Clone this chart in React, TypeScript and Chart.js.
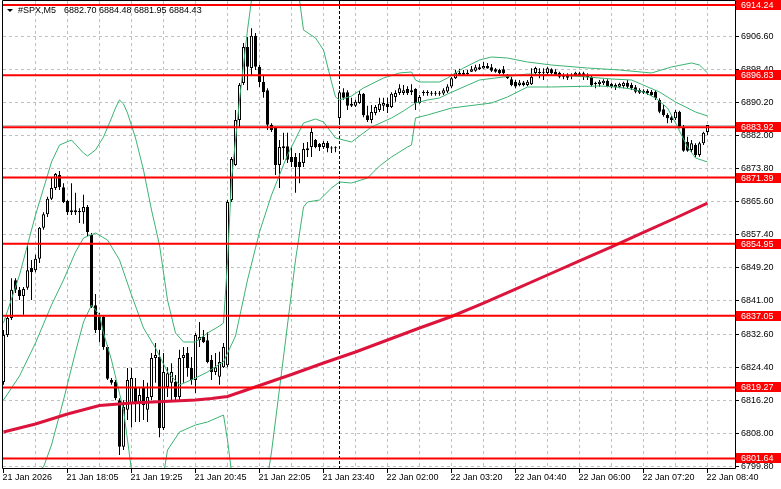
import React, { useEffect, useRef } from "react";
import { Chart, registerables } from "chart.js";

Chart.register(...registerables);

// ---------- data ----------
const symbolTitle = "#SPX,M5";
const lastOHLC = ["6882.70", "6884.48", "6881.95", "6884.43"];

const opens = [
  6820.6, 6832.3, 6836.5, 6845.9, 6843.5, 6842.0, 6844.0, 6848.9, 6848.4, 6851.2,
  6858.9, 6862.3, 6866.1, 6868.8, 6872.0, 6869.0, 6865.6, 6862.8, 6863.3, 6862.8,
  6862.8, 6864.1, 6857.1, 6839.7, 6836.8, 6836.8, 6829.3, 6821.1, 6820.6, 6816.1,
  6804.5, 6813.7, 6815.4, 6819.1, 6815.6, 6819.1, 6813.7, 6816.9, 6826.6, 6826.8,
  6809.2, 6819.4, 6820.4, 6820.6, 6816.9, 6826.6, 6827.8, 6824.1, 6821.1, 6831.0,
  6831.8, 6831.0, 6826.1, 6823.1, 6821.9, 6824.3, 6824.8, 6865.8, 6874.5, 6885.7,
  6894.9, 6903.8, 6898.6, 6906.6, 6898.9, 6895.1, 6893.1, 6884.5, 6883.7, 6874.5,
  6878.7, 6879.2, 6876.5, 6876.5, 6875.3, 6875.0, 6878.2, 6879.0, 6880.7, 6879.7,
  6879.0, 6880.0, 6878.7, 6878.7, 6886.2, 6892.6, 6892.6, 6889.7, 6889.2, 6889.9,
  6892.2, 6886.9, 6885.7, 6887.4, 6888.2, 6889.2, 6889.7, 6888.9, 6891.4, 6892.4,
  6892.4, 6893.4, 6892.6, 6893.4, 6889.9, 6892.4, 6892.6, 6892.4, 6892.4, 6892.2,
  6892.3, 6892.8, 6894.0, 6896.05, 6896.9, 6897.4, 6897.1, 6897.7, 6897.9, 6898.8,
  6898.5, 6899.1, 6898.8, 6898.3, 6898.1, 6898.3, 6896.9, 6895.8, 6895.2, 6894.4,
  6895.0, 6894.4, 6894.56, 6897.37, 6897.37, 6897.44, 6897.37, 6898.29, 6897.69, 6897.44,
  6896.87, 6896.62, 6896.62, 6896.87, 6896.87, 6897.29, 6896.87, 6896.45, 6894.96, 6894.64,
  6894.81, 6895.45, 6894.64, 6893.81, 6893.96, 6894.14, 6894.96, 6894.39, 6893.81, 6893.14,
  6892.97, 6892.97, 6892.72, 6892.72, 6890.66, 6888.35, 6886.93, 6886.36, 6886.11, 6887.75,
  6883.95, 6880.30, 6878.24, 6879.48, 6877.00, 6879.90, 6882.70,
];

const highs = [
  6833.5, 6837.0, 6846.4, 6846.4, 6844.2, 6844.2, 6854.6, 6850.9, 6852.2, 6859.1,
  6862.8, 6866.6, 6871.3, 6872.5, 6873.0, 6870.0, 6865.8, 6870.0, 6867.6, 6863.8,
  6867.1, 6864.6, 6857.6, 6842.5, 6837.8, 6837.0, 6829.8, 6821.6, 6821.1, 6816.6,
  6816.1, 6824.1, 6824.1, 6821.6, 6819.1, 6821.1, 6820.4, 6827.8, 6830.3, 6828.6,
  6827.8, 6824.3, 6825.3, 6822.35, 6828.6, 6829.3, 6829.3, 6826.8, 6832.8, 6835.5,
  6833.5, 6833.0, 6827.3, 6827.8, 6828.1, 6830.3, 6865.8, 6876.5, 6888.2, 6894.9,
  6904.8, 6906.3, 6908.5, 6907.3, 6899.4, 6896.9, 6893.6, 6884.9, 6884.0, 6880.7,
  6882.5, 6882.5, 6879.0, 6877.5, 6877.5, 6880.0, 6880.2, 6883.7, 6881.0, 6880.0,
  6880.5, 6880.5, 6879.2, 6879.2, 6893.1, 6893.6, 6893.1, 6891.2, 6890.7, 6892.9,
  6892.4, 6889.2, 6889.4, 6889.4, 6891.2, 6891.2, 6891.2, 6892.6, 6893.1, 6894.6,
  6894.4, 6894.1, 6894.6, 6893.6, 6891.9, 6893.1, 6893.1, 6892.9, 6892.9, 6892.9,
  6893.6, 6894.6, 6896.4, 6898.1, 6898.4, 6898.1, 6898.1, 6899.1, 6899.4, 6899.6,
  6900.1, 6899.85, 6899.6, 6898.6, 6898.4, 6899.1, 6897.1, 6896.4, 6895.6, 6895.6,
  6895.4, 6895.6, 6898.53, 6898.93, 6898.53, 6898.53, 6898.93, 6898.53, 6898.29, 6897.69,
  6897.29, 6897.29, 6897.29, 6897.69, 6897.69, 6897.69, 6897.29, 6896.87, 6895.21, 6895.63,
  6895.80, 6895.80, 6894.96, 6894.81, 6894.96, 6895.21, 6895.63, 6894.96, 6894.39, 6893.57,
  6893.32, 6893.32, 6893.14, 6893.14, 6891.08, 6889.42, 6887.36, 6886.93, 6888.18, 6888.00,
  6884.45, 6881.54, 6880.72, 6879.90, 6880.30, 6882.79, 6884.48,
];

const lows = [
  6819.9, 6831.8, 6836.0, 6842.7, 6841.0, 6837.3, 6843.5, 6841.0, 6847.9, 6850.2,
  6858.4, 6861.6, 6865.8, 6868.3, 6868.3, 6865.1, 6862.1, 6862.1, 6862.1, 6860.1,
  6859.9, 6856.9, 6839.0, 6832.8, 6830.5, 6828.6, 6821.1, 6819.9, 6816.1, 6802.5,
  6803.7, 6811.2, 6809.4, 6810.7, 6810.7, 6811.2, 6810.7, 6816.1, 6820.4, 6806.9,
  6808.7, 6816.9, 6816.1, 6816.1, 6816.1, 6820.4, 6821.9, 6819.9, 6817.9, 6829.3,
  6830.3, 6825.3, 6821.1, 6822.35, 6819.9, 6824.1, 6824.3, 6865.3, 6874.3, 6883.7,
  6894.4, 6893.1, 6896.9, 6898.1, 6893.9, 6891.2, 6883.2, 6882.7, 6872.0, 6868.8,
  6875.8, 6875.0, 6874.0, 6867.6, 6870.0, 6874.0, 6876.5, 6876.5, 6878.7, 6878.0,
  6878.5, 6877.7, 6877.5, 6877.7, 6884.5, 6890.7, 6888.2, 6888.9, 6888.9, 6889.7,
  6886.4, 6885.2, 6884.9, 6886.9, 6887.7, 6887.9, 6887.4, 6888.7, 6890.2, 6891.9,
  6891.9, 6891.9, 6891.9, 6888.2, 6889.7, 6891.7, 6891.7, 6891.7, 6891.7, 6891.7,
  6891.9, 6892.4, 6893.6, 6895.9, 6896.6, 6896.6, 6896.9, 6897.6, 6897.7, 6898.1,
  6898.4, 6898.4, 6897.6, 6897.4, 6897.1, 6896.9, 6895.9, 6894.1, 6893.6, 6894.1,
  6894.1, 6894.1, 6894.39, 6896.87, 6896.05, 6895.63, 6896.87, 6896.87, 6896.62, 6896.05,
  6895.80, 6895.63, 6895.80, 6896.62, 6896.45, 6895.63, 6895.63, 6893.96, 6893.57, 6893.96,
  6894.39, 6893.81, 6893.57, 6893.14, 6893.57, 6893.57, 6893.57, 6893.14, 6892.32, 6892.15,
  6892.15, 6891.90, 6891.65, 6890.66, 6887.36, 6886.51, 6884.87, 6885.02, 6885.69, 6883.63,
  6877.82, 6877.82, 6877.74, 6876.43, 6876.58, 6879.48, 6881.95,
];

const closes = [
  6832.3, 6836.5, 6843.5, 6843.5, 6842.0, 6843.7, 6848.4, 6847.9, 6851.2, 6858.9,
  6862.3, 6866.1, 6868.8, 6872.3, 6869.0, 6865.3, 6862.8, 6863.3, 6862.8, 6863.1,
  6864.1, 6857.9, 6839.2, 6833.5, 6833.5, 6829.3, 6821.4, 6820.4, 6816.6, 6804.5,
  6814.4, 6821.1, 6821.6, 6815.4, 6817.4, 6814.9, 6816.9, 6826.6, 6827.3, 6809.2,
  6823.1, 6822.8, 6823.1, 6816.9, 6826.6, 6827.3, 6824.1, 6821.1, 6832.3, 6831.8,
  6830.5, 6825.6, 6823.1, 6824.3, 6825.6, 6829.3, 6865.3, 6876.0, 6885.7, 6894.4,
  6903.8, 6898.9, 6906.6, 6898.9, 6895.1, 6892.6, 6884.5, 6883.2, 6874.5, 6879.0,
  6879.2, 6875.8, 6875.25, 6874.0, 6874.0, 6878.5, 6878.7, 6882.7, 6879.0, 6879.0,
  6880.0, 6878.7, 6878.6, 6878.65, 6892.6, 6891.2, 6889.2, 6889.2, 6890.2, 6892.2,
  6886.9, 6885.7, 6887.7, 6888.9, 6889.7, 6889.9, 6888.9, 6892.2, 6892.4, 6893.6,
  6893.1, 6892.4, 6893.1, 6889.9, 6891.4, 6892.6, 6892.4, 6892.2, 6892.2, 6892.4,
  6893.1, 6894.0, 6896.05, 6897.4, 6897.4, 6896.9, 6897.4, 6898.3, 6898.8, 6898.3,
  6899.1, 6898.5, 6897.9, 6897.7, 6897.3, 6897.3, 6896.05, 6894.4, 6894.0, 6895.0,
  6894.4, 6895.2, 6896.45, 6898.61, 6897.62, 6897.49, 6898.53, 6897.29, 6896.87, 6896.45,
  6896.45, 6896.20, 6896.55, 6897.44, 6897.29, 6896.45, 6896.30, 6894.39, 6894.64, 6895.21,
  6895.45, 6894.14, 6893.96, 6894.39, 6894.64, 6894.96, 6893.96, 6893.57, 6892.72, 6892.47,
  6892.47, 6892.32, 6891.90, 6891.08, 6887.75, 6886.93, 6886.11, 6885.69, 6887.75, 6884.03,
  6878.07, 6878.07, 6879.90, 6877.00, 6879.90, 6882.54, 6884.43,
];

// Bollinger bands (upper / middle / lower), read at bar indices
const upperIdx = [0, 4, 8, 12, 14, 17, 20, 21, 23, 25, 27, 28, 29, 30, 31, 33, 35, 37, 39, 41, 43, 45, 48, 51, 54, 55, 56, 57, 58, 59, 60, 61, 62, 64, 67, 70, 73, 74, 75, 78, 80, 82, 83, 84, 87, 90, 95, 99, 102, 103, 104, 109, 111, 115, 119, 122, 126, 131, 137, 146, 154, 162, 167, 172, 174, 176];
const upperVal = [6835.27, 6847.19, 6862.09, 6875.26, 6879.48, 6880.72, 6877.49, 6876.75, 6878.24, 6881.47, 6886.19, 6888.67, 6890.66, 6889.67, 6887.43, 6881.22, 6873.27, 6863.34, 6854.64, 6840.98, 6832.78, 6830.55, 6830.55, 6832.78, 6834.52, 6835.27, 6850.42, 6870.79, 6880.72, 6890.66, 6899.35, 6908.05, 6915.50, 6925.44, 6931.65, 6927.92, 6919.23, 6915.50, 6908.05, 6906.06, 6903.08, 6895.13, 6891.41, 6890.66, 6891.65, 6893.64, 6896.12, 6897.37, 6897.62, 6895.63, 6895.13, 6895.13, 6896.12, 6898.61, 6900.60, 6901.34, 6901.09, 6900.10, 6899.35, 6898.61, 6898.11, 6897.37, 6898.86, 6899.85, 6899.35, 6897.37];

const middleIdx = [0, 4, 8, 12, 15, 18, 20, 23, 26, 29, 32, 35, 38, 41, 44, 48, 51, 54, 55, 58, 61, 64, 67, 71, 75, 78, 80, 83, 87, 92, 97, 100, 103, 106, 109, 111, 119, 131, 138, 146, 152, 157, 164, 168, 173, 176];
const middleVal = [6816.14, 6822.10, 6830.30, 6839.74, 6845.95, 6852.90, 6856.38, 6857.62, 6855.88, 6850.92, 6842.22, 6834.02, 6829.06, 6823.10, 6819.87, 6821.60, 6823.10, 6825.08, 6825.58, 6832.04, 6845.95, 6857.87, 6867.06, 6877.00, 6884.95, 6885.94, 6885.20, 6881.22, 6880.23, 6883.95, 6886.19, 6887.93, 6889.91, 6890.66, 6891.16, 6892.15, 6895.63, 6897.12, 6896.87, 6896.37, 6895.88, 6895.63, 6892.65, 6890.16, 6887.68, 6886.69];

const lowerIdx = [0, 5, 8, 10, 12, 15, 18, 20, 22, 24, 25, 27, 30, 32, 34, 37, 40, 41, 44, 48, 51, 55, 56, 57, 59, 62, 64, 66, 67, 70, 73, 75, 76, 79, 82, 84, 87, 91, 94, 97, 101, 102, 103, 106, 112, 122, 126, 131, 137, 149, 153, 157, 160, 163, 166, 168, 171, 173, 176];
const lowerVal = [6797.01, 6796.76, 6798.26, 6799.50, 6804.96, 6816.14, 6828.06, 6835.52, 6839.74, 6837.25, 6832.78, 6826.08, 6813.66, 6798.75, 6795.77, 6794.78, 6797.51, 6803.72, 6808.19, 6809.93, 6810.68, 6812.41, 6806.20, 6798.26, 6788.82, 6781.36, 6783.85, 6796.76, 6803.22, 6826.82, 6850.92, 6864.08, 6865.32, 6865.82, 6868.80, 6870.29, 6870.04, 6871.28, 6874.27, 6876.50, 6878.99, 6879.48, 6886.19, 6886.93, 6888.67, 6889.91, 6891.41, 6893.89, 6893.89, 6894.14, 6893.89, 6893.39, 6892.65, 6891.16, 6888.67, 6884.95, 6878.99, 6876.25, 6875.26];

// Moving average (red)
const maIdx = [0, 8, 16, 24, 32, 40, 48, 52, 56, 60, 64, 72, 80, 88, 96, 104, 112, 120, 128, 136, 144, 152, 160, 168, 176];
const maVal = [6808.19, 6810.18, 6812.66, 6814.77, 6815.40, 6815.77, 6816.14, 6816.51, 6817.01, 6818.38, 6819.74, 6822.47, 6825.33, 6828.06, 6831.04, 6834.02, 6836.88, 6840.23, 6843.71, 6847.19, 6850.67, 6854.15, 6857.75, 6861.35, 6865.07];

// Horizontal levels
const levels = [6914.24, 6896.83, 6883.92, 6871.39, 6854.95, 6837.05, 6819.27, 6801.64];
const bidPrice = 6884.43;

// Axes
const priceTicks = [6906.6, 6898.4, 6890.2, 6882.0, 6873.8, 6865.6, 6857.4, 6849.2, 6841.0, 6832.6, 6824.4, 6816.2, 6808.0, 6799.8];
const timeLabels = ["21 Jan 2026", "21 Jan 18:05", "21 Jan 19:25", "21 Jan 20:45", "21 Jan 22:05", "21 Jan 23:40", "22 Jan 02:00", "22 Jan 03:20", "22 Jan 04:40", "22 Jan 06:00", "22 Jan 07:20", "22 Jan 08:40"];
const timeLabelBars = [0, 16, 32, 48, 64, 80, 96, 112, 128, 144, 160, 176];
const gridEveryBars = 8;
const daySeparatorBar = 84;

// view range
const X_MIN = -0.125;
const X_MAX = 182.875;
const Y_MIN = 6799.25;
const Y_MAX = 6915.25;

const FONT = '9px "Liberation Sans", Arial, sans-serif';

const mtPlugin = {
  id: "mtDecor",
  beforeDatasetsDraw(chart: any) {
    const { ctx, chartArea: a, scales } = chart;
    const x = scales.x;
    const y = scales.y;
    ctx.save();
    ctx.beginPath();
    ctx.rect(a.left, a.top, a.right - a.left, a.bottom - a.top);
    ctx.clip();
    ctx.lineWidth = 1;
    ctx.strokeStyle = "#c0c0c0";
    ctx.setLineDash([3, 3]);
    for (let b = gridEveryBars; b <= X_MAX; b += gridEveryBars) {
      const px = Math.floor(x.getPixelForValue(b)) + 0.5;
      ctx.beginPath();
      ctx.moveTo(px, a.top);
      ctx.lineTo(px, a.bottom);
      ctx.stroke();
    }
    for (const t of priceTicks) {
      const py = Math.round(y.getPixelForValue(t)) + 0.5;
      ctx.beginPath();
      ctx.moveTo(a.left, py);
      ctx.lineTo(a.right, py);
      ctx.stroke();
    }
    // bid line
    ctx.setLineDash([]);
    ctx.strokeStyle = "#c0c0c0";
    const by = Math.round(y.getPixelForValue(bidPrice)) + 0.5;
    ctx.beginPath();
    ctx.moveTo(a.left, by);
    ctx.lineTo(a.right, by);
    ctx.stroke();
    // day separator
    ctx.strokeStyle = "#000000";
    ctx.setLineDash([3, 2]);
    const sx = Math.floor(x.getPixelForValue(daySeparatorBar)) + 0.5;
    ctx.beginPath();
    ctx.moveTo(sx, a.top);
    ctx.lineTo(sx, a.bottom);
    ctx.stroke();
    ctx.restore();
  },
  afterDraw(chart: any) {
    const { ctx, chartArea: a, scales } = chart;
    const x = scales.x;
    const y = scales.y;
    const W = chart.width;
    ctx.save();
    ctx.setLineDash([]);
    ctx.lineWidth = 1;
    ctx.strokeStyle = "#000000";
    // frame
    ctx.beginPath();
    ctx.moveTo(a.left - 0.5, 0.5);
    ctx.lineTo(a.right + 0.5, 0.5);
    ctx.lineTo(a.right + 0.5, a.bottom + 0.5);
    ctx.lineTo(a.left - 0.5, a.bottom + 0.5);
    ctx.closePath();
    ctx.stroke();

    ctx.font = FONT;
    ctx.fillStyle = "#000000";
    ctx.textBaseline = "middle";
    ctx.textAlign = "left";
    // price ticks
    for (const t of priceTicks) {
      const py = Math.round(y.getPixelForValue(t)) + 0.5;
      ctx.beginPath();
      ctx.moveTo(a.right + 1, py);
      ctx.lineTo(a.right + 4, py);
      ctx.stroke();
      ctx.fillText(t.toFixed(2), a.right + 6, py);
    }
    // time ticks
    timeLabelBars.forEach((b, k) => {
      const px = Math.floor(x.getPixelForValue(b)) + 0.5;
      ctx.beginPath();
      ctx.moveTo(px, a.bottom + 1);
      ctx.lineTo(px, a.bottom + 5);
      ctx.stroke();
      ctx.fillText(timeLabels[k], px - 1, a.bottom + 10);
    });
    // level labels
    for (const v of levels) {
      const py = Math.round(y.getPixelForValue(v));
      ctx.fillStyle = "#ff0000";
      ctx.fillRect(a.right + 1, py - 5, W - a.right - 1, 10);
      ctx.fillStyle = "#ffffff";
      ctx.fillText(v.toFixed(2), a.right + 6, py + 0.5);
    }
    // header
    ctx.fillStyle = "#000000";
    ctx.beginPath();
    ctx.moveTo(7, 9);
    ctx.lineTo(13, 9);
    ctx.lineTo(10, 12);
    ctx.closePath();
    ctx.fill();
    ctx.fillText(symbolTitle, 18, 11);
    ctx.fillText(lastOHLC.join(" "), 64, 11);
    ctx.restore();
  },
};

export default function App() {
  const ref = useRef<HTMLCanvasElement>(null);
  useEffect(() => {
    document.body.style.margin = "0";
    const wickData = lows.map((l, i) => ({ x: i, y: [l, highs[i]] }));
    const bodyData = opens.map((o, i) => ({ x: i, y: [o, closes[i]] }));
    const toXY = (idx: number[], val: number[]) => idx.map((b, k) => ({ x: b, y: val[k] }));
    const levelSets = levels.map((v) => ({
      type: "line" as const,
      data: [{ x: X_MIN, y: v }, { x: X_MAX, y: v }],
      borderColor: "#ff0000",
      borderWidth: 2,
      pointRadius: 0,
      order: 0,
    }));
    const bandStyle = { type: "line" as const, borderColor: "#3cb371", borderWidth: 1, pointRadius: 0, tension: 0, order: 2 };
    const chart = new Chart(ref.current as HTMLCanvasElement, {
      type: "bar",
      data: {
        datasets: [
          {
            type: "bar",
            data: wickData as any,
            backgroundColor: "#000000",
            borderWidth: 0,
            barThickness: 1,
            grouped: false,
            inflateAmount: 0,
            order: 4,
          } as any,
          {
            type: "bar",
            data: bodyData as any,
            backgroundColor: (c: any) => (closes[c.dataIndex] >= opens[c.dataIndex] ? "#ffffff" : "#000000"),
            borderColor: "#000000",
            borderWidth: 1,
            borderSkipped: false,
            barThickness: 3,
            minBarLength: 1,
            grouped: false,
            inflateAmount: 0,
            order: 3,
          } as any,
          { ...bandStyle, data: toXY(upperIdx, upperVal) } as any,
          { ...bandStyle, data: toXY(middleIdx, middleVal) } as any,
          { ...bandStyle, data: toXY(lowerIdx, lowerVal) } as any,
          {
            type: "line",
            data: toXY(maIdx, maVal),
            borderColor: "#dc143c",
            borderWidth: 3,
            pointRadius: 0,
            tension: 0,
            order: 1,
          } as any,
          ...(levelSets as any[]),
        ],
      },
      options: {
        responsive: false,
        animation: false,
        devicePixelRatio: 1,
        layout: { padding: { left: 3, top: 1, right: 46, bottom: 21 } },
        scales: {
          x: { type: "linear", min: X_MIN, max: X_MAX, display: false, offset: false, grid: { offset: false } },
          y: { type: "linear", min: Y_MIN, max: Y_MAX, display: false, offset: false },
        },
        plugins: { legend: { display: false }, tooltip: { enabled: false } },
        events: [],
      },
      plugins: [mtPlugin],
    } as any);
    return () => chart.destroy();
  }, []);
  return (
    <div style={{ width: 781, height: 489, background: "#ffffff" }}>
      <canvas ref={ref} width={781} height={489} style={{ display: "block" }} />
    </div>
  );
}
